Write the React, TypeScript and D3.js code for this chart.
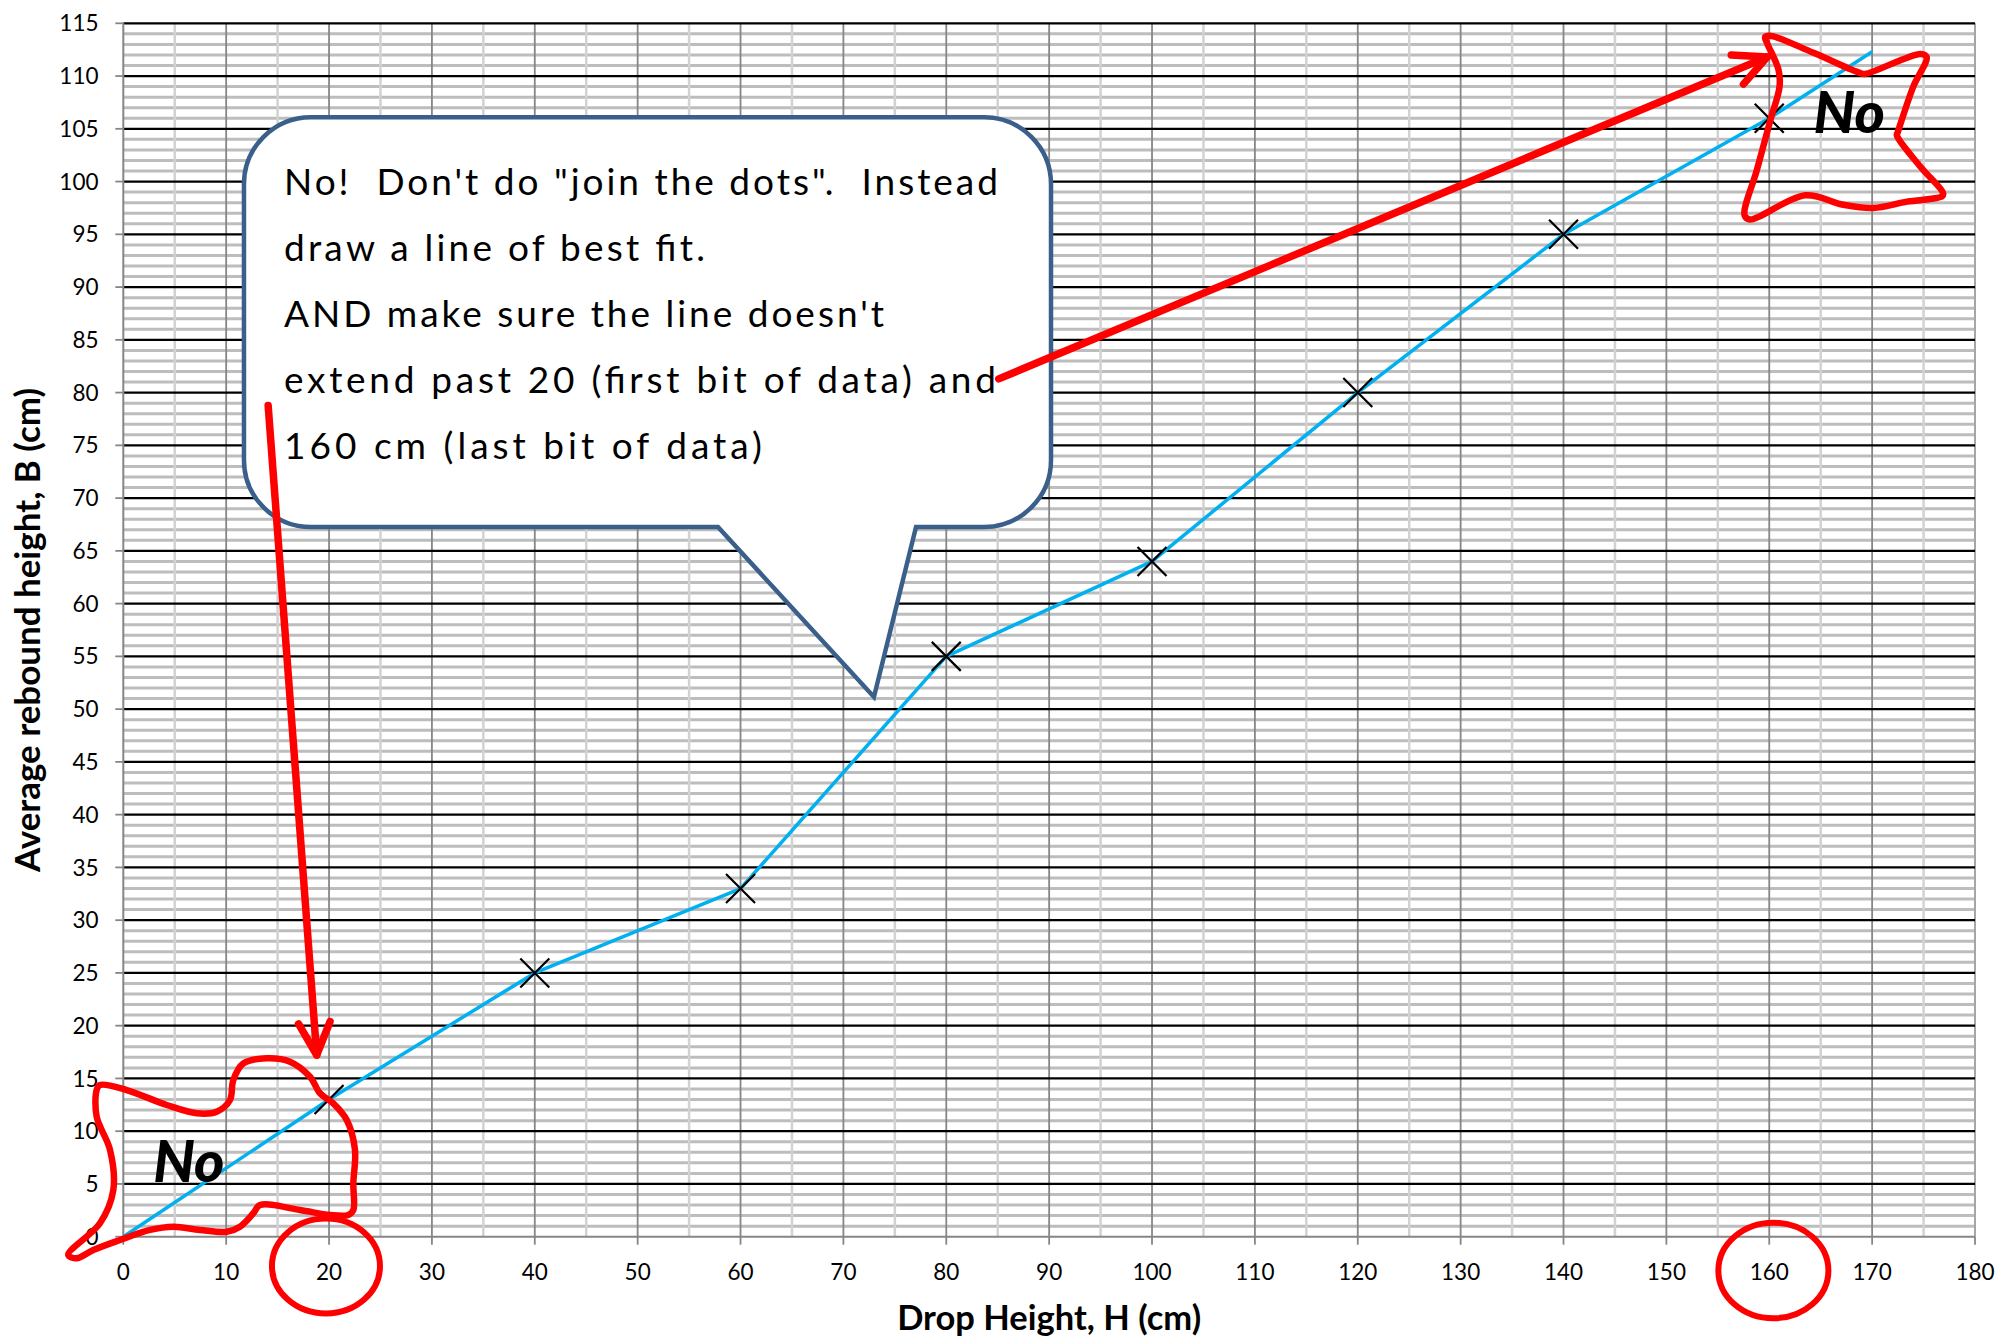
import React from 'react';
import * as d3 from 'd3';

// ---------- data ----------
const dropHeights = [20, 40, 60, 80, 100, 120, 140, 160];
const reboundHeights = [13, 25, 33, 55, 64, 80, 95, 106];
// the "join the dots" line as drawn (from origin, extended past the last point)
const lineDrop = [0, 20, 40, 60, 80, 100, 120, 140, 160, 170];
const lineRebound = [0, 13, 25, 33, 55, 64, 80, 95, 106, 112.3];

const xTickValues = d3.range(0, 181, 10);
const yTickValues = d3.range(0, 116, 5);
const xTitle = 'Drop Height, H (cm)';
const yTitle = 'Average rebound height, B (cm)';

const calloutText = [
  'No!  Don\'t do "join the dots".  Instead',
  'draw a line of best fit.',
  'AND make sure the line doesn\'t',
  'extend past 20 (first bit of data) and',
  '160 cm (last bit of data)',
];
const noLabel = 'No';

// ---------- annotation geometry (in data units) ----------
const calloutBox = { x0: 11.73, x1: 90.18, yTop: 106.1, yBottom: 67.26, baseL: 57.81, baseR: 77.06, tipX: 72.97, tipY: 51.15 };
const arrowsData = [
  { from: [14.08, 78.77], to: [18.8, 17.22] },
  { from: [85.1, 81.3], to: [159.8, 111.8] },
];
const circledTicks = [
  { cx: 19.7, cy: -2.78, rx: 5.25, ry: 4.5 },
  { cx: 160.4, cy: -3.2, rx: 5.35, ry: 4.53 },
];
const noPositions = [
  { x: 164.3, y: 104.6 },
  { x: 2.9, y: 5.18 },
];
const blobLeft: [number, number][] = [
  [-5.35, -1.73], [-2.27, 1.27], [-0.97, 4.43], [-1.29, 8.22], [-2.59, 11.37], [-2.59, 13.9],
  [-2.27, 14.38], [0.33, 13.9], [4.22, 12.48], [7.14, 11.7], [9.08, 11.85], [10.37, 12.96],
  [10.69, 14.85], [11.67, 16.43], [13.94, 16.91], [16.2, 16.59], [18.15, 15.16], [19.12, 13.59],
  [20.41, 12.64], [21.72, 11.06], [22.52, 8.22], [22.36, 5.06], [22.36, 2.53], [21.87, 2.06],
  [20.09, 2.06], [17.18, 2.53], [13.29, 3.0], [12.64, 2.22], [11.34, 0.95], [10.05, 0.47],
  [7.46, 0.64], [4.86, 0.95], [2.6, 0.64], [-0.32, -0.31], [-2.92, -1.26], [-4.53, -2.05],
];
const blobStar: [number, number][] = [
  [159.6, 113.7], [160.2, 113.8], [164.3, 112.2], [168.8, 110.3], [169.3, 110.2], [174.7, 112.1],
  [175.3, 111.8], [174.0, 109.0], [172.5, 104.7], [172.4, 104.4], [174.7, 101.4], [176.9, 98.9],
  [176.8, 98.6], [173.4, 98.1], [170.1, 97.5], [167.2, 97.8], [163.5, 98.7], [158.1, 96.4],
  [157.6, 96.8], [158.8, 101.1], [160.1, 105.8], [161.0, 109.0], [160.9, 110.6], [159.8, 113.1],
];

// ---------- layout ----------
const W = 2000;
const H = 1340;
const M = { left: 123.3, right: 1975, top: 23.3, bottom: 1236.7 };
const calloutTextWidths = [714, 421, 600, 712, 478];
const FONT = 'Lato, "Open Sans", "Noto Sans", sans-serif';

export default function App() {
  const x = d3.scaleLinear().domain([0, 180]).range([M.left, M.right]);
  const y = d3.scaleLinear().domain([0, 115]).range([M.bottom, M.top]);

  const minorX = d3.range(5, 180, 10);
  const majorX = d3.range(10, 180, 10);
  const minorY = d3.range(1, 115, 1).filter((v) => v % 5 !== 0);
  const majorY = d3.range(5, 116, 5);

  const linePts = lineDrop.map((d, i) => [d, lineRebound[i]] as [number, number]);
  const lineGen = d3.line<[number, number]>().x((d) => x(d[0])).y((d) => y(d[1]));
  const blobGen = d3
    .line<[number, number]>()
    .x((d) => x(d[0]))
    .y((d) => y(d[1]))
    .curve(d3.curveCatmullRomClosed.alpha(0.5));

  // callout path
  const cb = calloutBox;
  const bx0 = x(cb.x0), bx1 = x(cb.x1), byT = y(cb.yTop), byB = y(cb.yBottom);
  const r = 67;
  const calloutPath = [
    `M${bx0 + r},${byT}`,
    `H${bx1 - r}`,
    `A${r},${r} 0 0 1 ${bx1},${byT + r}`,
    `V${byB - r}`,
    `A${r},${r} 0 0 1 ${bx1 - r},${byB}`,
    `H${x(cb.baseR)}`,
    `L${x(cb.tipX)},${y(cb.tipY)}`,
    `L${x(cb.baseL)},${byB}`,
    `H${bx0 + r}`,
    `A${r},${r} 0 0 1 ${bx0},${byB - r}`,
    `V${byT + r}`,
    `A${r},${r} 0 0 1 ${bx0 + r},${byT}`,
    'Z',
  ].join(' ');

  const arrowPaths = arrowsData.map((a) => {
    const fx = x(a.from[0]), fy = y(a.from[1]);
    const tx = x(a.to[0]), ty = y(a.to[1]);
    const len = Math.hypot(fx - tx, fy - ty);
    const ux = (fx - tx) / len, uy = (fy - ty) / len;
    const ang = (26 * Math.PI) / 180;
    const L = 36;
    const rot = (s: number) => [
      tx + L * (ux * Math.cos(s * ang) - uy * Math.sin(s * ang)),
      ty + L * (ux * Math.sin(s * ang) + uy * Math.cos(s * ang)),
    ];
    const a1 = rot(1), a2 = rot(-1);
    return {
      shaft: `M${fx},${fy} L${tx},${ty}`,
      head: `M${a1[0]},${a1[1]} L${tx},${ty} L${a2[0]},${a2[1]}`,
    };
  });

  const markerSize = 14.5;

  return (
    <svg
      width={W}
      height={H}
      style={{ position: 'absolute', left: 0, top: 0, background: '#fff', fontFamily: FONT }}
    >
      <rect x={0} y={0} width={W} height={H} fill="#fff" />
      {/* minor horizontal grid */}
      {minorY.map((v) => (
        <line key={'my' + v} x1={x(0)} x2={x(180)} y1={y(v)} y2={y(v)} stroke="#BDBDBD" strokeWidth={3} />
      ))}
      {/* minor vertical grid */}
      {minorX.map((v) => (
        <line key={'mx' + v} x1={x(v)} x2={x(v)} y1={y(0)} y2={y(115)} stroke="#D2D2D2" strokeWidth={2.5} />
      ))}
      {/* major vertical grid */}
      {majorX.map((v) => (
        <line key={'Mx' + v} x1={x(v)} x2={x(v)} y1={y(0)} y2={y(115)} stroke="#868686" strokeWidth={1.8} />
      ))}
      <line x1={x(180)} x2={x(180)} y1={y(0)} y2={y(115)} stroke="#A6A6A6" strokeWidth={2} />
      {/* major horizontal grid */}
      {majorY.map((v) => (
        <line key={'My' + v} x1={x(0)} x2={x(180)} y1={y(v)} y2={y(v)} stroke="#000" strokeWidth={2.2} />
      ))}
      {/* axes */}
      <line x1={x(0)} x2={x(180)} y1={y(0)} y2={y(0)} stroke="#868686" strokeWidth={2} />
      <line x1={x(0)} x2={x(0)} y1={y(0)} y2={y(115)} stroke="#868686" strokeWidth={2} />
      {xTickValues.map((v) => (
        <g key={'xt' + v}>
          <line x1={x(v)} x2={x(v)} y1={y(0)} y2={y(0) + 8} stroke="#868686" strokeWidth={1.8} />
          <text x={x(v)} y={1280} textAnchor="middle" fontSize={22.5} fill="#000">
            {v}
          </text>
        </g>
      ))}
      {yTickValues.map((v) => (
        <g key={'yt' + v}>
          <line x1={x(0) - 8} x2={x(0)} y1={y(v)} y2={y(v)} stroke="#868686" strokeWidth={1.8} />
          <text x={98.5} y={y(v)} dy="0.36em" textAnchor="end" fontSize={22.5} fill="#000">
            {v}
          </text>
        </g>
      ))}
      {/* axis titles */}
      <text
        x={(M.left + M.right) / 2}
        y={1330}
        textAnchor="middle"
        fontSize={34}
        fontWeight="bold"
        fill="#000"
        textLength={304}
        lengthAdjust="spacingAndGlyphs"
      >
        {xTitle}
      </text>
      <text
        transform={`translate(40,${(M.top + M.bottom) / 2}) rotate(-90)`}
        textAnchor="middle"
        fontSize={34}
        fontWeight="bold"
        fill="#000"
        textLength={484}
        lengthAdjust="spacingAndGlyphs"
      >
        {yTitle}
      </text>

      {/* callout */}
      <path d={calloutPath} fill="#fff" stroke="#3A5F8B" strokeWidth={4.5} strokeLinejoin="miter" />
      {calloutText.map((t, i) => (
        <text
          key={'ct' + i}
          x={bx0 + 40}
          y={byT + 78 + i * 66}
          fontSize={37}
          fill="#000"
          textLength={calloutTextWidths[i]}
          lengthAdjust="spacing"
          style={{ whiteSpace: 'pre' }}
        >
          {t}
        </text>
      ))}

      {/* data line */}
      <path d={lineGen(linePts) || ''} fill="none" stroke="#00B0F0" strokeWidth={3.5} strokeLinejoin="round" />
      {/* markers */}
      {dropHeights.map((d, i) => {
        const cx = x(d), cy = y(reboundHeights[i]);
        const s = markerSize;
        return (
          <path
            key={'mk' + i}
            d={`M${cx - s},${cy - s} L${cx + s},${cy + s} M${cx - s},${cy + s} L${cx + s},${cy - s}`}
            stroke="#000"
            strokeWidth={2.2}
            fill="none"
          />
        );
      })}

      {/* "No" labels */}
      {noPositions.map((p, i) => (
        <text
          key={'no' + i}
          x={x(p.x)}
          y={y(p.y)}
          fontSize={58}
          fontWeight={900}
          fontStyle="italic"
          fill="#000"
        >
          {noLabel}
        </text>
      ))}

      {/* red annotations */}
      <path d={blobGen(blobLeft) || ''} fill="none" stroke="#FF0000" strokeWidth={6.5} strokeLinejoin="round" />
      <path d={blobGen(blobStar) || ''} fill="none" stroke="#FF0000" strokeWidth={6.5} strokeLinejoin="round" />
      {circledTicks.map((c, i) => (
        <ellipse
          key={'ce' + i}
          cx={x(c.cx)}
          cy={y(c.cy)}
          rx={x(c.rx) - x(0)}
          ry={y(0) - y(c.ry)}
          fill="none"
          stroke="#FF0000"
          strokeWidth={6}
        />
      ))}
      {arrowPaths.map((a, i) => (
        <g key={'ar' + i} stroke="#FF0000" strokeWidth={7.5} fill="none" strokeLinecap="round" strokeLinejoin="round">
          <path d={a.shaft} />
          <path d={a.head} />
        </g>
      ))}
    </svg>
  );
}
